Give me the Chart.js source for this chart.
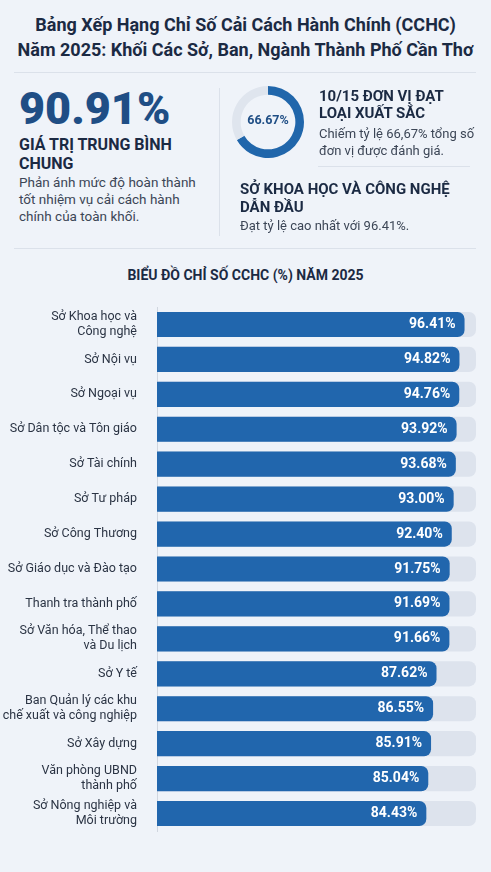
<!DOCTYPE html><html><head><meta charset="utf-8">
<script src="https://cdn.jsdelivr.net/npm/chart.js@4"></script>
<style>
body{margin:0;width:491px;height:872px;background:#eff3f9;font-family:Roboto,Inter,sans-serif;position:relative;overflow:hidden;color:#1b2a43}
.t{position:absolute;left:0;width:491px;top:12px;text-align:center;font-weight:700;font-size:18px;line-height:25px}
.hr{position:absolute;background:#dbe1ea}
.abs{position:absolute}
</style></head><body>
<div class="t">Bảng Xếp Hạng Chỉ Số Cải Cách Hành Chính (CCHC)<br>Năm 2025: Khối Các Sở, Ban, Ngành Thành Phố Cần Thơ</div>
<div class="hr" style="left:14px;width:462px;top:72px;height:1px"></div>
<div class="hr" style="left:219px;width:1px;top:88px;height:148px"></div>
<div class="hr" style="left:14px;width:462px;top:248px;height:1px"></div>
<div class="hr" style="left:318px;width:152px;top:166px;height:1px"></div>
<div class="abs" style="left:19px;top:82px;font-size:45px;font-weight:900;color:#1f4e85">90.91%</div>
<div class="abs" style="left:19px;top:135px;font-size:16px;font-weight:700;line-height:19px;width:190px">GIÁ TRỊ TRUNG BÌNH CHUNG</div>
<div class="abs" style="left:19px;top:174px;font-size:13.5px;line-height:17px;color:#3c4656;width:195px">Phản ánh mức độ hoàn thành tốt nhiệm vụ cải cách hành chính của toàn khối.</div>
<div class="abs" style="left:232px;top:86px;width:72px;height:72px"><canvas id="d"></canvas></div>
<div class="abs" style="left:232px;top:112px;width:72px;text-align:center;font-size:12.5px;font-weight:700;color:#1f4e85">66.67%</div>
<div class="abs" style="left:319px;top:88px;font-size:15px;font-weight:700;line-height:17px;width:160px">10/15 ĐƠN VỊ ĐẠT LOẠI XUẤT SẮC</div>
<div class="abs" style="left:319px;top:125px;font-size:13px;line-height:17px;color:#3c4656;width:165px">Chiếm tỷ lệ 66,67% tổng số đơn vị được đánh giá.</div>
<div class="abs" style="left:240px;top:180px;font-size:15px;font-weight:700;line-height:18px;width:240px">SỞ KHOA HỌC VÀ CÔNG NGHỆ DẪN ĐẦU</div>
<div class="abs" style="left:240px;top:218px;font-size:13px;color:#3c4656">Đạt tỷ lệ cao nhất với 96.41%.</div>
<div class="abs" style="left:0;width:491px;top:267px;text-align:center;font-size:14px;font-weight:700">BIỂU ĐỒ CHỈ SỐ CCHC (%) NĂM 2025</div>
<div class="abs" style="left:0;top:280px;width:491px;height:578px"><canvas id="c"></canvas></div>
<script>
const categories=[["Sở Khoa học và","Công nghệ"],"Sở Nội vụ","Sở Ngoại vụ","Sở Dân tộc và Tôn giáo","Sở Tài chính","Sở Tư pháp","Sở Công Thương","Sở Giáo dục và Đào tạo","Thanh tra thành phố",["Sở Văn hóa, Thể thao","và Du lịch"],"Sở Y tế",["Ban Quản lý các khu","chế xuất và công nghiệp"],"Sở Xây dựng",["Văn phòng UBND","thành phố"],["Sở Nông nghiệp và","Môi trường"]];
const values=[96.41,94.82,94.76,93.92,93.68,93.00,92.40,91.75,91.69,91.66,87.62,86.55,85.91,85.04,84.43];
const track=values.map(()=>100);
const donutValues=[66.67,33.33];
new Chart(document.getElementById('d'),{type:'doughnut',data:{datasets:[{data:donutValues,backgroundColor:['#2066ab','#dfe5ee'],borderWidth:0}]},options:{responsive:true,maintainAspectRatio:false,cutout:'76%',animation:false,events:[],plugins:{legend:{display:false},tooltip:{enabled:false}}}});
const lbl={id:'lbl',afterDatasetsDraw(ch){const c=ch.ctx;const m=ch.getDatasetMeta(1);c.save();c.fillStyle='#fff';c.font='bold 14px Roboto, Inter';c.textAlign='right';c.textBaseline='middle';m.data.forEach((b,i)=>{c.fillText(values[i].toFixed(2)+'%',b.x-9,b.y);});c.restore();}};
new Chart(document.getElementById('c'),{type:'bar',data:{labels:categories,datasets:[
{data:track,backgroundColor:'#dde3ed',borderRadius:{topRight:7,bottomRight:7},borderSkipped:'start',barPercentage:0.72,categoryPercentage:1,grouped:false,order:2},
{data:values,backgroundColor:'#2166ad',borderRadius:{topRight:7,bottomRight:7},borderSkipped:'start',barPercentage:0.72,categoryPercentage:1,grouped:false,order:1}]},
options:{indexAxis:'y',responsive:true,maintainAspectRatio:false,animation:false,events:[],layout:{padding:{left:0,right:15,top:0,bottom:0}},
scales:{x:{min:0,max:100,display:false},y:{afterFit(s){s.width=157;},grid:{display:false},border:{color:'#d0d6df'},ticks:{color:'#2b3444',font:{size:12.5,family:'Roboto, Inter'},padding:12}}},
plugins:{legend:{display:false},tooltip:{enabled:false}}},plugins:[lbl]});
</script></body></html>
